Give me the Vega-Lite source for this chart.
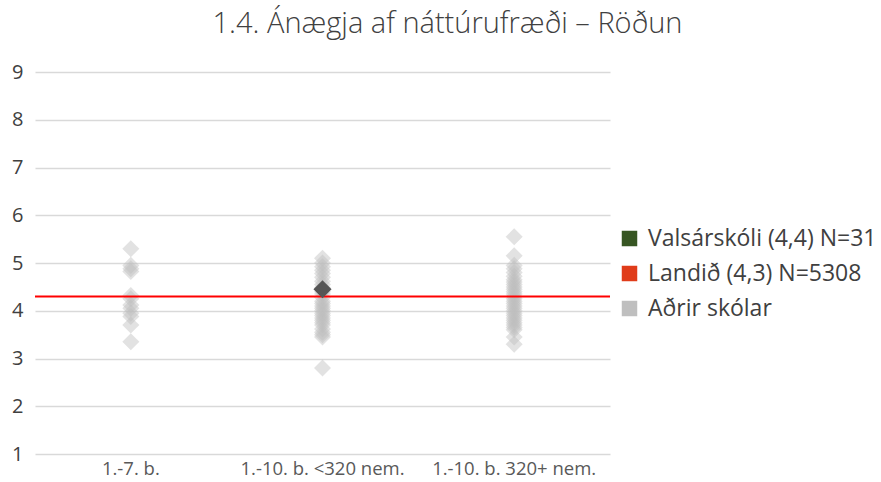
{
  "$schema": "https://vega.github.io/schema/vega-lite/v6.json",
  "autosize": {"type": "none"},
  "padding": {"left": 35, "top": 72, "right": 271, "bottom": 28},
  "width": 575,
  "height": 382,
  "background": "white",
  "title": {
    "text": "1.4. Ánægja af náttúrufræði – Röðun",
    "anchor": "middle",
    "dx": 125,
    "offset": 0,
    "baseline": "alphabetic",
    "font": "Open Sans",
    "fontSize": 29,
    "fontWeight": 300,
    "color": "#404040"
  },
  "config": {
    "view": {"stroke": null},
    "font": "Open Sans"
  },
  "datasets": {
    "schools": [
      {"flokkur": "1.-7. b.", "gildi": 5.3, "hopur": "Aðrir skólar"},
      {"flokkur": "1.-7. b.", "gildi": 4.95, "hopur": "Aðrir skólar"},
      {"flokkur": "1.-7. b.", "gildi": 4.88, "hopur": "Aðrir skólar"},
      {"flokkur": "1.-7. b.", "gildi": 4.82, "hopur": "Aðrir skólar"},
      {"flokkur": "1.-7. b.", "gildi": 4.32, "hopur": "Aðrir skólar"},
      {"flokkur": "1.-7. b.", "gildi": 4.25, "hopur": "Aðrir skólar"},
      {"flokkur": "1.-7. b.", "gildi": 4.12, "hopur": "Aðrir skólar"},
      {"flokkur": "1.-7. b.", "gildi": 4.05, "hopur": "Aðrir skólar"},
      {"flokkur": "1.-7. b.", "gildi": 3.95, "hopur": "Aðrir skólar"},
      {"flokkur": "1.-7. b.", "gildi": 3.88, "hopur": "Aðrir skólar"},
      {"flokkur": "1.-7. b.", "gildi": 3.7, "hopur": "Aðrir skólar"},
      {"flokkur": "1.-7. b.", "gildi": 3.35, "hopur": "Aðrir skólar"},
      {"flokkur": "1.-10. b. <320 nem.", "gildi": 5.1, "hopur": "Aðrir skólar"},
      {"flokkur": "1.-10. b. <320 nem.", "gildi": 5.0, "hopur": "Aðrir skólar"},
      {"flokkur": "1.-10. b. <320 nem.", "gildi": 4.92, "hopur": "Aðrir skólar"},
      {"flokkur": "1.-10. b. <320 nem.", "gildi": 4.85, "hopur": "Aðrir skólar"},
      {"flokkur": "1.-10. b. <320 nem.", "gildi": 4.78, "hopur": "Aðrir skólar"},
      {"flokkur": "1.-10. b. <320 nem.", "gildi": 4.7, "hopur": "Aðrir skólar"},
      {"flokkur": "1.-10. b. <320 nem.", "gildi": 4.62, "hopur": "Aðrir skólar"},
      {"flokkur": "1.-10. b. <320 nem.", "gildi": 4.55, "hopur": "Aðrir skólar"},
      {"flokkur": "1.-10. b. <320 nem.", "gildi": 4.48, "hopur": "Aðrir skólar"},
      {"flokkur": "1.-10. b. <320 nem.", "gildi": 4.4, "hopur": "Aðrir skólar"},
      {"flokkur": "1.-10. b. <320 nem.", "gildi": 4.35, "hopur": "Aðrir skólar"},
      {"flokkur": "1.-10. b. <320 nem.", "gildi": 4.28, "hopur": "Aðrir skólar"},
      {"flokkur": "1.-10. b. <320 nem.", "gildi": 4.2, "hopur": "Aðrir skólar"},
      {"flokkur": "1.-10. b. <320 nem.", "gildi": 4.15, "hopur": "Aðrir skólar"},
      {"flokkur": "1.-10. b. <320 nem.", "gildi": 4.1, "hopur": "Aðrir skólar"},
      {"flokkur": "1.-10. b. <320 nem.", "gildi": 4.05, "hopur": "Aðrir skólar"},
      {"flokkur": "1.-10. b. <320 nem.", "gildi": 4.0, "hopur": "Aðrir skólar"},
      {"flokkur": "1.-10. b. <320 nem.", "gildi": 3.95, "hopur": "Aðrir skólar"},
      {"flokkur": "1.-10. b. <320 nem.", "gildi": 3.9, "hopur": "Aðrir skólar"},
      {"flokkur": "1.-10. b. <320 nem.", "gildi": 3.85, "hopur": "Aðrir skólar"},
      {"flokkur": "1.-10. b. <320 nem.", "gildi": 3.8, "hopur": "Aðrir skólar"},
      {"flokkur": "1.-10. b. <320 nem.", "gildi": 3.75, "hopur": "Aðrir skólar"},
      {"flokkur": "1.-10. b. <320 nem.", "gildi": 3.7, "hopur": "Aðrir skólar"},
      {"flokkur": "1.-10. b. <320 nem.", "gildi": 3.62, "hopur": "Aðrir skólar"},
      {"flokkur": "1.-10. b. <320 nem.", "gildi": 3.55, "hopur": "Aðrir skólar"},
      {"flokkur": "1.-10. b. <320 nem.", "gildi": 3.5, "hopur": "Aðrir skólar"},
      {"flokkur": "1.-10. b. <320 nem.", "gildi": 3.45, "hopur": "Aðrir skólar"},
      {"flokkur": "1.-10. b. <320 nem.", "gildi": 2.8, "hopur": "Aðrir skólar"},
      {"flokkur": "1.-10. b. 320+ nem.", "gildi": 5.55, "hopur": "Aðrir skólar"},
      {"flokkur": "1.-10. b. 320+ nem.", "gildi": 5.15, "hopur": "Aðrir skólar"},
      {"flokkur": "1.-10. b. 320+ nem.", "gildi": 4.95, "hopur": "Aðrir skólar"},
      {"flokkur": "1.-10. b. 320+ nem.", "gildi": 4.88, "hopur": "Aðrir skólar"},
      {"flokkur": "1.-10. b. 320+ nem.", "gildi": 4.8, "hopur": "Aðrir skólar"},
      {"flokkur": "1.-10. b. 320+ nem.", "gildi": 4.72, "hopur": "Aðrir skólar"},
      {"flokkur": "1.-10. b. 320+ nem.", "gildi": 4.65, "hopur": "Aðrir skólar"},
      {"flokkur": "1.-10. b. 320+ nem.", "gildi": 4.6, "hopur": "Aðrir skólar"},
      {"flokkur": "1.-10. b. 320+ nem.", "gildi": 4.55, "hopur": "Aðrir skólar"},
      {"flokkur": "1.-10. b. 320+ nem.", "gildi": 4.5, "hopur": "Aðrir skólar"},
      {"flokkur": "1.-10. b. 320+ nem.", "gildi": 4.45, "hopur": "Aðrir skólar"},
      {"flokkur": "1.-10. b. 320+ nem.", "gildi": 4.4, "hopur": "Aðrir skólar"},
      {"flokkur": "1.-10. b. 320+ nem.", "gildi": 4.35, "hopur": "Aðrir skólar"},
      {"flokkur": "1.-10. b. 320+ nem.", "gildi": 4.3, "hopur": "Aðrir skólar"},
      {"flokkur": "1.-10. b. 320+ nem.", "gildi": 4.25, "hopur": "Aðrir skólar"},
      {"flokkur": "1.-10. b. 320+ nem.", "gildi": 4.2, "hopur": "Aðrir skólar"},
      {"flokkur": "1.-10. b. 320+ nem.", "gildi": 4.15, "hopur": "Aðrir skólar"},
      {"flokkur": "1.-10. b. 320+ nem.", "gildi": 4.1, "hopur": "Aðrir skólar"},
      {"flokkur": "1.-10. b. 320+ nem.", "gildi": 4.05, "hopur": "Aðrir skólar"},
      {"flokkur": "1.-10. b. 320+ nem.", "gildi": 4.0, "hopur": "Aðrir skólar"},
      {"flokkur": "1.-10. b. 320+ nem.", "gildi": 3.95, "hopur": "Aðrir skólar"},
      {"flokkur": "1.-10. b. 320+ nem.", "gildi": 3.9, "hopur": "Aðrir skólar"},
      {"flokkur": "1.-10. b. 320+ nem.", "gildi": 3.85, "hopur": "Aðrir skólar"},
      {"flokkur": "1.-10. b. 320+ nem.", "gildi": 3.8, "hopur": "Aðrir skólar"},
      {"flokkur": "1.-10. b. 320+ nem.", "gildi": 3.75, "hopur": "Aðrir skólar"},
      {"flokkur": "1.-10. b. 320+ nem.", "gildi": 3.7, "hopur": "Aðrir skólar"},
      {"flokkur": "1.-10. b. 320+ nem.", "gildi": 3.65, "hopur": "Aðrir skólar"},
      {"flokkur": "1.-10. b. 320+ nem.", "gildi": 3.6, "hopur": "Aðrir skólar"},
      {"flokkur": "1.-10. b. 320+ nem.", "gildi": 3.45, "hopur": "Aðrir skólar"},
      {"flokkur": "1.-10. b. 320+ nem.", "gildi": 3.3, "hopur": "Aðrir skólar"}
    ],
    "skolinn": [
      {"flokkur": "1.-10. b. <320 nem.", "gildi": 4.45}
    ],
    "landid": [
      {"gildi": 4.3}
    ]
  },
  "layer": [
    {
      "data": {"name": "schools"},
      "mark": {"type": "point", "shape": "diamond", "filled": true, "size": 290, "opacity": 0.45},
      "encoding": {
        "x": {
          "field": "flokkur", "type": "nominal",
          "scale": {"type": "band", "domain": ["1.-7. b.", "1.-10. b. <320 nem.", "1.-10. b. 320+ nem."], "paddingInner": 0, "paddingOuter": 0},
          "axis": {"title": null, "domain": false, "ticks": false, "labelAngle": 0, "labelFontSize": 18.5, "labelColor": "#595959", "labelPadding": 5, "labelFont": "Open Sans"}
        },
        "y": {
          "field": "gildi", "type": "quantitative",
          "scale": {"domain": [1, 9], "nice": false, "zero": false},
          "axis": {"title": null, "domain": false, "ticks": false, "values": [1,2,3,4,5,6,7,8,9], "labelFontSize": 20, "labelColor": "#404040", "labelPadding": 12, "gridColor": "#d9d9d9", "gridWidth": 1.5, "labelFont": "Open Sans"}
        },
        "color": {
          "field": "hopur", "type": "nominal",
          "scale": {
            "domain": ["Valsárskóli (4,4) N=31", "Landið (4,3) N=5308", "Aðrir skólar"],
            "range": ["#375623", "#E03C1A", "#BFBFBF"]
          },
          "legend": {
            "title": null, "orient": "none", "legendX": 583, "legendY": 155,
            "symbolType": "square", "symbolSize": 240, "symbolOpacity": 1,
            "symbolStrokeWidth": 0, "labelLimit": 400,
            "labelFontSize": 23, "labelColor": "#404040", "labelFont": "Open Sans",
            "rowPadding": 11, "symbolOffset": 0, "labelOffset": 7, "padding": 0
          }
        }
      }
    },
    {
      "data": {"name": "landid"},
      "mark": {"type": "rule", "color": "#FF0000", "strokeWidth": 2},
      "encoding": {
        "y": {"field": "gildi", "type": "quantitative"}
      }
    },
    {
      "data": {"name": "skolinn"},
      "mark": {"type": "point", "shape": "diamond", "filled": true, "size": 330, "opacity": 1, "color": "#555555"},
      "encoding": {
        "x": {"field": "flokkur", "type": "nominal"},
        "y": {"field": "gildi", "type": "quantitative"}
      }
    }
  ]
}
